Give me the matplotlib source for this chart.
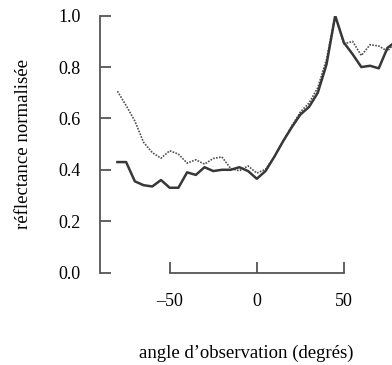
import matplotlib
matplotlib.use("Agg")
import matplotlib.pyplot as plt

angles = [-80, -75, -70, -65, -60, -55, -50, -45, -40, -35, -30, -25, -20, -15,
          -10, -5, 0, 5, 10, 15, 20, 25, 30, 35, 40, 45, 50, 55, 60, 65, 70, 75, 80]
solid = [0.43, 0.43, 0.355, 0.34, 0.335, 0.36, 0.33, 0.33, 0.39, 0.38, 0.41, 0.395,
         0.40, 0.40, 0.41, 0.395, 0.365, 0.395, 0.45, 0.51, 0.565, 0.615, 0.645,
         0.70, 0.81, 1.0, 0.895, 0.85, 0.80, 0.805, 0.795, 0.875, 0.90]
dotted = [0.706, 0.65, 0.59, 0.507, 0.467, 0.445, 0.474, 0.461, 0.426, 0.439, 0.422,
          0.444, 0.45, 0.405, 0.396, 0.415, 0.387, 0.402, 0.45, 0.51, 0.57, 0.625,
          0.66, 0.72, 0.83, 1.0, 0.89, 0.90, 0.845, 0.887, 0.882, 0.862, 0.90]
xticks = [-50, 0, 50]
xticklabels = ["\u201350", "0", "50"]
yticks = [0.0, 0.2, 0.4, 0.6, 0.8, 1.0]
yticklabels = ["0.0", "0.2", "0.4", "0.6", "0.8", "1.0"]

plt.rcParams['font.family'] = ['Liberation Serif', 'DejaVu Serif']

fig = plt.figure(figsize=(3.92, 3.65), dpi=100)
ax = fig.add_axes([100/392, 92.5/365, 1 - 100/392, (349.3 - 92.5)/365])

ax.plot(angles, dotted, linestyle=(0, (1, 0.8)), color='#505050', linewidth=1.2)
ax.plot(angles, solid, linestyle='-', color='#383838', linewidth=1.8)

ax.set_xlim(-90, 77.6)
ax.set_ylim(0, 1)

spine_col = '#555555'
ax.spines['top'].set_visible(False)
ax.spines['right'].set_visible(False)
ax.spines['left'].set_color(spine_col)
ax.spines['bottom'].set_color(spine_col)
ax.spines['left'].set_linewidth(1.3)
ax.spines['bottom'].set_linewidth(1.3)
ax.spines['bottom'].set_bounds(-50, 50)

ax.set_xticks(xticks)
ax.set_xticklabels(xticklabels)
ax.set_yticks(yticks)
ax.set_yticklabels(yticklabels)
ax.tick_params(axis='y', direction='in', length=8, width=1.3, color=spine_col,
               pad=14, labelsize=13)
ax.tick_params(axis='x', direction='in', length=8, width=1.3, color=spine_col,
               pad=15, labelsize=13)

ax.set_ylabel("réflectance normalisée", fontsize=13.5, labelpad=19)
ax.set_xlabel("angle d\u2019observation (degrés)", fontsize=13.5, labelpad=25)

fig.savefig("out.png", dpi=100)
